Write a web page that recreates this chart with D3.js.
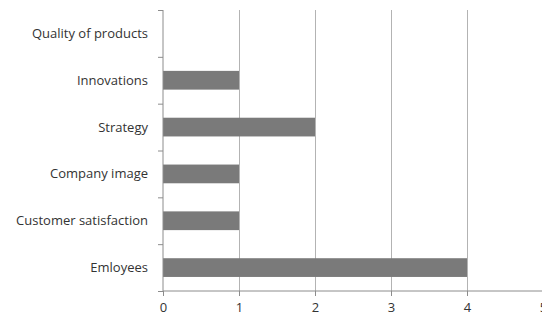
<!DOCTYPE html>
<html>
<head>
<meta charset="utf-8">
<script src="https://cdn.jsdelivr.net/npm/d3@7"></script>
<style>
  body { margin: 0; background: #fff; }
  svg text { font-family: "Open Sans", sans-serif; fill: #333; }
</style>
</head>
<body>
<div id="chart"></div>
<script>
const categories = ["Quality of products", "Innovations", "Strategy", "Company image", "Customer satisfaction", "Emloyees"];
const values = [0, 1, 2, 1, 1, 4];
const xTicks = [0, 1, 2, 3, 4, 5];

const margin = { top: 10, right: 0, bottom: 25, left: 163 };
const width = 542 - margin.left - margin.right;
const height = 316 - margin.top - margin.bottom;

const svg = d3.select("#chart").append("svg")
  .attr("width", 542)
  .attr("height", 316)
  .append("g")
  .attr("transform", `translate(${margin.left},${margin.top})`);

const x = d3.scaleLinear().domain([0, 5]).range([0, 380]);
const y = d3.scaleBand().domain(categories).range([0, height]).paddingInner(0.6).paddingOuter(0.3);

// gridlines
svg.append("g")
  .selectAll("line")
  .data(xTicks.filter(d => d > 0 && d < 5))
  .enter().append("line")
  .attr("x1", d => x(d)).attr("x2", d => x(d))
  .attr("y1", 0).attr("y2", height + 4)
  .attr("stroke", "#b3b3b3")
  .attr("stroke-width", 1)
  .attr("shape-rendering", "crispEdges");

// bars
svg.selectAll(".bar")
  .data(categories)
  .enter().append("rect")
  .attr("class", "bar")
  .attr("x", x(0))
  .attr("y", d => y(d))
  .attr("width", (d, i) => x(values[i]) - x(0))
  .attr("height", y.bandwidth())
  .attr("fill", "#7a7a7a");

// y axis
const yBands = d3.scaleLinear().domain([0, categories.length]).range([0, height]);
const yAxis = svg.append("g")
  .call(d3.axisLeft(yBands).tickValues(d3.range(categories.length + 1)).tickSize(5).tickFormat(""));
yAxis.select(".domain").attr("stroke", "#8c8c8c").attr("d", `M0,0V${height}`);
yAxis.selectAll(".tick line").attr("stroke", "#8c8c8c");

svg.append("g")
  .selectAll("text")
  .data(categories)
  .enter().append("text")
  .attr("x", -15)
  .attr("y", d => y(d) + y.bandwidth() / 2)
  .attr("dy", "0.35em")
  .attr("text-anchor", "end")
  .style("font-size", "13px")
  .text(d => d);

// x axis
const xAxis = svg.append("g")
  .attr("transform", `translate(0,${height})`)
  .call(d3.axisBottom(x).tickValues(xTicks).tickSize(5).tickPadding(7).tickFormat(d3.format("d")));
xAxis.select(".domain").attr("stroke", "#8c8c8c").attr("d", `M0,0H${width}`);
xAxis.selectAll(".tick line").attr("stroke", "#8c8c8c");
xAxis.selectAll(".tick text")
  .style("font-size", "13px")
  .style("font-family", "'Open Sans', sans-serif")
  .attr("fill", "#333");
</script>
</body>
</html>
